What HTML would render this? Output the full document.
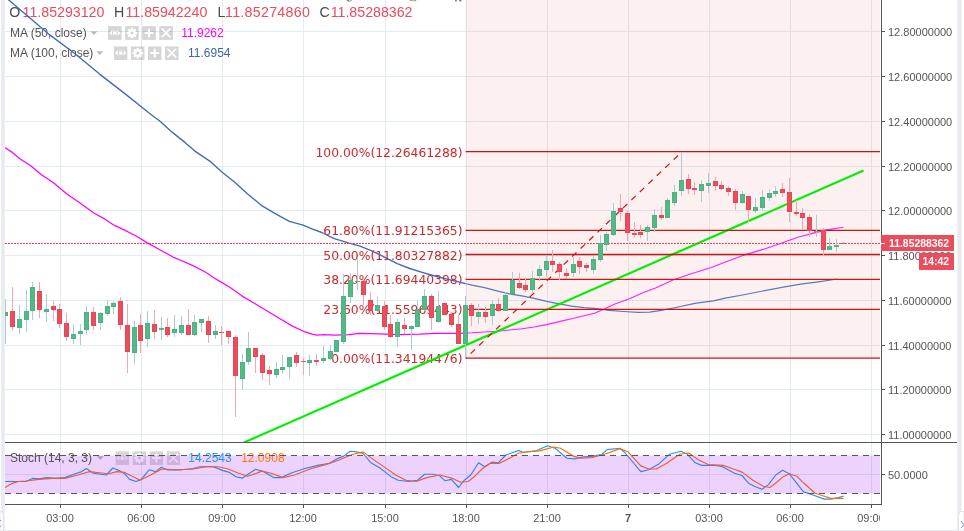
<!DOCTYPE html><html><head><meta charset="utf-8"><title>Chart</title><style>
html,body{margin:0;padding:0;background:#fff}
body{width:964px;height:531px;overflow:hidden;position:relative;font-family:"Liberation Sans",Arial,sans-serif}
#wrap{position:absolute;left:0;top:0;width:964px;height:531px;overflow:hidden;will-change:transform}
svg{position:absolute;left:0;top:0}
.t{position:absolute;white-space:nowrap;line-height:1}
.ax{font-size:11px;color:#555;left:888px}
.tm{font-size:11px;color:#555;transform:translateX(-50%)}
.fib{font-family:"DejaVu Sans","Liberation Sans",sans-serif;font-size:12.35px;color:#cc2a2a;right:501.5px;text-align:right}
.oh{font-size:14.2px;top:5.4px}
.ls{letter-spacing:0.3px}
.k{color:#4a4a4a}.v{color:#eb4d5c}
.lg{font-size:12px;color:#555}
.bx{position:absolute;background:#eb4d5c;color:#fff;font-weight:bold;font-size:10.4px;line-height:1;white-space:nowrap}

</style></head><body><div id="wrap">
<svg width="964" height="531" viewBox="0 0 964 531">
<rect x="1.2" y="0" width="3.5" height="531" fill="#e7eaef"/>
<rect x="957.2" y="0" width="4.3" height="531" fill="#e7eaef"/>
<defs>
<symbol id="i-eye" viewBox="0 0 14 14"><rect width="14" height="14" fill="#000" fill-opacity="0.16"/><path d="M1.3 7 Q7 0.4 12.7 7 Q7 13.6 1.3 7 Z" fill="#fff"/><circle cx="7" cy="7" r="3.1" fill="#d4d4d4"/><circle cx="7" cy="7" r="1.9" fill="#fff"/></symbol>
<symbol id="i-gear" viewBox="0 0 14 14"><rect width="14" height="14" fill="#000" fill-opacity="0.16"/><g fill="#fff"><circle cx="7" cy="7" r="3.9"/><g id="tt"><rect x="5.9" y="1.7" width="2.2" height="10.6"/><rect x="1.7" y="5.9" width="10.6" height="2.2"/></g><use href="#tt" transform="rotate(45 7 7)"/></g><circle cx="7" cy="7" r="1.6" fill="#d4d4d4"/></symbol>
<symbol id="i-plus" viewBox="0 0 14 14"><rect width="14" height="14" fill="#000" fill-opacity="0.16"/><path d="M7 2.6 V11.4 M2.6 7 H11.4" stroke="#fff" stroke-width="2" fill="none"/></symbol>
<symbol id="i-x" viewBox="0 0 14 14"><rect width="14" height="14" fill="#000" fill-opacity="0.16"/><path d="M2.6 2.6 L11.4 11.4 M11.4 2.6 L2.6 11.4" stroke="#fff" stroke-width="1.7" fill="none"/></symbol>
</defs>
<g stroke="#e1ecf2" stroke-width="1" shape-rendering="crispEdges">
<line x1="5" y1="31.5" x2="880" y2="31.5"/>
<line x1="5" y1="76.5" x2="880" y2="76.5"/>
<line x1="5" y1="121.5" x2="880" y2="121.5"/>
<line x1="5" y1="166.5" x2="880" y2="166.5"/>
<line x1="5" y1="210.5" x2="880" y2="210.5"/>
<line x1="5" y1="255.5" x2="880" y2="255.5"/>
<line x1="5" y1="300.5" x2="880" y2="300.5"/>
<line x1="5" y1="345.5" x2="880" y2="345.5"/>
<line x1="5" y1="389.5" x2="880" y2="389.5"/>
<line x1="5" y1="434.5" x2="880" y2="434.5"/>
<line x1="60.5" y1="0" x2="60.5" y2="504"/>
<line x1="141.5" y1="0" x2="141.5" y2="504"/>
<line x1="222.5" y1="0" x2="222.5" y2="504"/>
<line x1="303.5" y1="0" x2="303.5" y2="504"/>
<line x1="385.5" y1="0" x2="385.5" y2="504"/>
<line x1="466.5" y1="0" x2="466.5" y2="504"/>
<line x1="547.5" y1="0" x2="547.5" y2="504"/>
<line x1="628.5" y1="0" x2="628.5" y2="504"/>
<line x1="709.5" y1="0" x2="709.5" y2="504"/>
<line x1="790.5" y1="0" x2="790.5" y2="504"/>
<line x1="871.5" y1="0" x2="871.5" y2="504"/>
<line x1="5" y1="474.5" x2="880" y2="474.5"/>
<line x1="5" y1="530.5" x2="957" y2="530.5" stroke="#e7eaef"/>
</g>
<rect x="465.3" y="0" width="414.7" height="358.0" fill="#d42c24" fill-opacity="0.068"/>
<clipPath id="sp"><rect x="5" y="443" width="875" height="61"/></clipPath>
<g clip-path="url(#sp)">
<polyline points="5.2,481.5 26.0,481.5 32.4,478.4 38.9,478.9 46.7,477.6 54.5,478.4 64.8,477.6 75.2,473.7 81.7,471.6 86.4,468.5 93.4,473.2 106.3,475.0 112.8,468.0 119.3,470.6 124.5,473.7 129.7,479.4 136.2,481.5 141.3,479.4 149.1,469.8 155.6,471.6 161.3,467.2 167.3,469.8 181.5,469.8 193.2,468.5 199.7,466.7 212.7,466.5 223.0,470.6 229.5,472.4 236.0,476.8 242.5,478.1 255.6,469.3 263.3,471.6 273.7,477.6 281.5,477.6 290.6,473.2 304.8,468.5 317.8,465.4 329.5,463.3 337.2,458.7 343.7,456.1 350.2,451.2 356.7,451.9 363.2,453.5 371.0,462.8 380.0,468.0 391.7,477.1 398.2,480.2 408.6,481.5 417.6,480.2 424.6,474.2 433.2,474.2 439.7,475.8 444.9,480.7 451.4,479.4 458.6,487.5 464.3,480.2 470.8,475.0 478.6,462.8 484.7,466.7 492.4,462.0 498.2,462.8 505.9,455.0 518.9,450.4 522.8,452.2 535.8,450.9 547.4,445.7 555.2,448.3 566.9,458.2 574.7,458.9 583.7,456.9 594.1,456.1 601.9,454.3 607.1,449.6 620.0,448.3 625.2,453.0 640.8,471.6 648.6,469.8 658.9,463.9 669.3,454.3 681.0,451.2 687.5,454.3 695.2,462.8 701.7,465.4 713.4,465.2 721.8,466.5 734.7,473.2 742.0,475.5 749.0,483.6 755.5,486.7 762.0,489.3 768.5,484.6 775.7,475.0 782.7,470.3 789.2,473.7 803.5,491.9 813.8,495.2 824.2,499.1 830.7,499.1 838.5,497.6 843.7,496.0" fill="none" stroke="#2196f3" stroke-width="1.15" stroke-linejoin="round"/>
<polyline points="5.2,487.5 11.7,483.6 18.2,481.5 26.0,481.0 38.9,479.4 51.9,478.4 64.8,478.4 77.8,475.0 89.5,471.6 103.7,473.2 108.9,473.7 116.7,471.6 124.5,472.4 132.3,476.3 140.0,480.2 149.1,475.8 162.1,469.0 176.3,469.8 191.9,469.3 207.5,466.5 218.4,466.7 228.2,469.0 238.6,473.2 247.8,476.3 262.0,471.1 271.1,473.2 282.8,477.6 294.5,475.0 310.0,469.0 325.6,464.6 338.5,460.2 351.5,454.8 363.2,451.9 369.7,456.9 382.6,465.9 395.6,475.0 406.0,480.2 416.3,481.5 426.7,477.6 439.7,475.0 452.7,478.4 460.4,482.3 468.2,481.5 474.7,476.3 482.5,468.5 490.4,463.3 499.5,463.3 508.5,458.7 518.9,453.0 529.3,451.7 539.6,450.9 553.9,447.0 560.4,448.3 573.4,456.1 581.1,458.2 591.5,457.6 604.5,454.3 620.0,448.6 627.8,451.7 640.8,465.9 648.6,469.0 656.3,469.0 666.7,463.3 679.7,454.3 688.8,453.0 697.8,459.5 708.2,464.6 723.1,465.4 733.5,469.0 742.5,472.4 752.9,480.2 763.3,486.2 769.8,487.5 776.2,482.8 782.7,477.1 789.2,473.7 797.0,476.3 803.5,482.8 815.1,493.2 822.9,495.8 830.7,498.4 843.7,498.4" fill="none" stroke="#ff6d00" stroke-width="1.15" stroke-linejoin="round"/>
</g>
<use href="#i-eye" x="115.40" y="451.2" width="13.8" height="13.8"/><use href="#i-gear" x="132.45" y="451.2" width="13.8" height="13.8"/><use href="#i-plus" x="149.50" y="451.2" width="13.8" height="13.8"/><use href="#i-x" x="166.55" y="451.2" width="13.8" height="13.8"/>
<path d="M97 456.3 h6.8 l-3.4 3.8 z" fill="#b8b8b8"/>
<rect x="5" y="455.5" width="875" height="38" fill="#a020f0" fill-opacity="0.2"/>
<use href="#i-eye" x="108.00" y="26.1" width="13.8" height="13.8"/><use href="#i-gear" x="125.05" y="26.1" width="13.8" height="13.8"/><use href="#i-plus" x="142.10" y="26.1" width="13.8" height="13.8"/><use href="#i-x" x="159.15" y="26.1" width="13.8" height="13.8"/>
<path d="M90.6 31.3 h6.8 l-3.4 3.8 z" fill="#b8b8b8"/>
<use href="#i-eye" x="113.80" y="46.2" width="13.8" height="13.8"/><use href="#i-gear" x="130.85" y="46.2" width="13.8" height="13.8"/><use href="#i-plus" x="147.90" y="46.2" width="13.8" height="13.8"/><use href="#i-x" x="164.95" y="46.2" width="13.8" height="13.8"/>
<path d="M96.4 51.3 h6.8 l-3.4 3.8 z" fill="#b8b8b8"/>
<g fill="#444" fill-opacity="0.8"><path d="M346.3 0 h2.2 l1.2 0.9 l1.4 -0.9 h1 l-2.2 1.5 h-1.4 z"/><path d="M409.3 0 h1.6 q2.4 1.3 4.6 0 h1.2 q-3 2.6 -7.4 0 z"/><rect x="455.2" y="0" width="1.5" height="1.5"/><rect x="459.3" y="0" width="1.9" height="1.4"/></g>
</svg>
<div style="position:absolute;left:5px;top:0;width:875px;height:442px;overflow:hidden"><div style="position:absolute;left:-5px;top:0;width:964px;height:531px">
<div class="t fib" style="top:146.5px">100.00%(12.26461288)</div>
<div class="t fib" style="top:225.3px">61.80%(11.91215365)</div>
<div class="t fib" style="top:249.7px">50.00%(11.80327882)</div>
<div class="t fib" style="top:274.0px">38.20%(11.69440398)</div>
<div class="t fib" style="top:304.2px">23.60%(11.55969443)</div>
<div class="t fib" style="top:352.8px">0.00%(11.34194476)</div>
<div class="t oh k" style="left:9.3px">O</div>
<div class="t oh v" style="left:22.6px">11.85293120</div>
<div class="t oh k" style="left:113.9px">H</div>
<div class="t oh v" style="left:125.5px">11.85942240</div>
<div class="t oh k" style="left:217.6px">L</div>
<div class="t oh v ls" style="left:225px">11.85274860</div>
<div class="t oh k" style="left:319.5px">C</div>
<div class="t oh v" style="left:330.7px">11.85288362</div>
<div class="t lg" style="left:10px;top:27px">MA (50, close)</div>
<div class="t lg" style="left:181.2px;top:27px;color:#ff00ff">11.9262</div>
<div class="t lg" style="left:10px;top:47px">MA (100, close)</div>
<div class="t lg" style="left:188px;top:47px;color:#3f62ad">11.6954</div>
</div></div>
<div class="t lg" style="left:10px;top:452px">Stoch (14, 3, 3)</div>
<div class="t lg" style="left:188.3px;top:452px;color:#2196f3">14.2543</div>
<div class="t lg" style="left:241.2px;top:452px;color:#ff7a0a">12.0908</div>
<svg width="964" height="531" viewBox="0 0 964 531">
<defs><clipPath id="mp"><rect x="5" y="0" width="875" height="442"/></clipPath></defs>
<g clip-path="url(#mp)">
<clipPath id="cl"><rect x="0" y="0" width="465.5" height="442"/></clipPath><clipPath id="cr"><rect x="465.5" y="0" width="420" height="442"/></clipPath>
<g clip-path="url(#cl)"><polyline points="4.0,-4.0 8.7,0.0 24.9,13.7 49.8,34.9 74.7,53.5 99.6,74.1 124.5,93.4 149.4,113.3 160.0,121.2 172.4,132.4 184.9,142.4 194.9,151.1 209.8,161.1 222.2,172.3 234.7,182.2 247.1,193.4 262.1,205.9 277.0,214.6 289.4,221.3 303.1,225.1 311.9,228.8 321.8,232.5 334.3,238.7 349.2,243.2 360.0,246.1 372.4,251.1 384.9,257.3 397.3,263.6 409.8,268.5 422.2,272.3 434.7,276.0 447.1,279.2 459.6,282.2 472.0,285.2 484.5,287.7 496.9,290.9 509.4,293.9 521.8,295.9 534.3,298.4 546.7,301.4 559.2,303.9 571.6,306.1 584.0,307.6 594.5,308.3 609.0,310.4 623.6,311.5 638.1,312.4 649.7,312.1 661.3,310.4 675.8,307.5 696.2,303.1 713.6,300.8 725.2,298.2 742.6,295.0 760.1,291.5 783.3,287.1 800.7,284.2 818.2,281.9 837.4,279.0" fill="none" stroke="#4468b6" stroke-width="1.35" stroke-linejoin="round"/><polyline points="5.0,147.8 12.4,152.4 19.9,158.7 31.1,166.1 41.1,174.4 53.5,182.8 67.2,194.3 79.7,202.7 93.4,212.7 104.6,218.9 114.5,225.4 124.5,230.1 135.7,235.8 146.9,242.6 159.3,249.5 174.3,257.7 180.0,260.0 192.4,265.4 204.9,271.7 217.3,279.9 229.8,287.3 242.2,296.1 254.7,303.5 267.1,311.0 279.6,318.5 292.0,325.9 304.5,331.7 311.9,334.1 316.9,335.1 324.4,334.6 334.3,335.1 349.3,334.6 359.2,333.4 379.2,333.9 399.1,334.6 420.0,334.1 434.7,333.3 459.6,333.3 472.0,332.8 484.5,332.0 496.9,331.3 509.4,330.0 521.8,328.8 534.3,327.0 546.7,324.6 559.2,321.6 571.6,318.8 584.0,315.8 594.5,313.3 603.2,309.5 614.9,304.0 629.4,298.8 641.0,293.5 655.5,288.0 672.9,279.9 690.4,274.1 710.7,267.7 728.1,261.0 745.6,254.6 763.0,249.4 780.4,243.6 797.8,237.2 812.4,233.4 826.9,229.9 843.4,227.3" fill="none" stroke="#ff00ff" stroke-width="1.25" stroke-linejoin="round"/></g>
<g clip-path="url(#cr)" stroke-opacity="0.88"><polyline points="4.0,-4.0 8.7,0.0 24.9,13.7 49.8,34.9 74.7,53.5 99.6,74.1 124.5,93.4 149.4,113.3 160.0,121.2 172.4,132.4 184.9,142.4 194.9,151.1 209.8,161.1 222.2,172.3 234.7,182.2 247.1,193.4 262.1,205.9 277.0,214.6 289.4,221.3 303.1,225.1 311.9,228.8 321.8,232.5 334.3,238.7 349.2,243.2 360.0,246.1 372.4,251.1 384.9,257.3 397.3,263.6 409.8,268.5 422.2,272.3 434.7,276.0 447.1,279.2 459.6,282.2 472.0,285.2 484.5,287.7 496.9,290.9 509.4,293.9 521.8,295.9 534.3,298.4 546.7,301.4 559.2,303.9 571.6,306.1 584.0,307.6 594.5,308.3 609.0,310.4 623.6,311.5 638.1,312.4 649.7,312.1 661.3,310.4 675.8,307.5 696.2,303.1 713.6,300.8 725.2,298.2 742.6,295.0 760.1,291.5 783.3,287.1 800.7,284.2 818.2,281.9 837.4,279.0" fill="none" stroke="#4468b6" stroke-width="1.2" stroke-linejoin="round"/><polyline points="5.0,147.8 12.4,152.4 19.9,158.7 31.1,166.1 41.1,174.4 53.5,182.8 67.2,194.3 79.7,202.7 93.4,212.7 104.6,218.9 114.5,225.4 124.5,230.1 135.7,235.8 146.9,242.6 159.3,249.5 174.3,257.7 180.0,260.0 192.4,265.4 204.9,271.7 217.3,279.9 229.8,287.3 242.2,296.1 254.7,303.5 267.1,311.0 279.6,318.5 292.0,325.9 304.5,331.7 311.9,334.1 316.9,335.1 324.4,334.6 334.3,335.1 349.3,334.6 359.2,333.4 379.2,333.9 399.1,334.6 420.0,334.1 434.7,333.3 459.6,333.3 472.0,332.8 484.5,332.0 496.9,331.3 509.4,330.0 521.8,328.8 534.3,327.0 546.7,324.6 559.2,321.6 571.6,318.8 584.0,315.8 594.5,313.3 603.2,309.5 614.9,304.0 629.4,298.8 641.0,293.5 655.5,288.0 672.9,279.9 690.4,274.1 710.7,267.7 728.1,261.0 745.6,254.6 763.0,249.4 780.4,243.6 797.8,237.2 812.4,233.4 826.9,229.9 843.4,227.3" fill="none" stroke="#ff00ff" stroke-width="1.1" stroke-linejoin="round"/></g>
<line x1="239" y1="444.7" x2="863.5" y2="170.6" stroke="#00f000" stroke-width="2.15"/>
<line x1="465.6" y1="151.70" x2="880" y2="151.70" stroke="#cc1414" stroke-width="1.3"/>
<line x1="465.6" y1="230.45" x2="880" y2="230.45" stroke="#cc1414" stroke-width="1.3"/>
<line x1="465.6" y1="254.50" x2="880" y2="254.50" stroke="#cc1414" stroke-width="1.3"/>
<line x1="465.6" y1="279.40" x2="880" y2="279.40" stroke="#cc1414" stroke-width="1.3"/>
<line x1="465.6" y1="309.30" x2="880" y2="309.30" stroke="#cc1414" stroke-width="1.3"/>
<line x1="465.6" y1="358.05" x2="880" y2="358.05" stroke="#cc1414" stroke-width="1.3"/>
<line x1="466" y1="358.0" x2="682" y2="151.7" stroke="#cc1414" stroke-width="1.2" stroke-dasharray="6,5.7" stroke-dashoffset="5.3"/>
<line x1="5" y1="243.5" x2="880" y2="243.5" stroke="#e93a50" stroke-width="1.15" stroke-dasharray="1.9,1.1"/>
<rect x="5.0" y="299" width="1" height="13" fill="#a9cdd3"/>
<rect x="5.0" y="316" width="1" height="28" fill="#a9cdd3"/>
<rect x="3.0" y="312" width="5" height="4" fill="#4eb182"/><rect x="4.0" y="313" width="3" height="2" fill="#53b987"/>
<rect x="12.0" y="287" width="1" height="24" fill="#f5a6ae"/>
<rect x="12.0" y="327" width="1" height="4" fill="#f5a6ae"/>
<rect x="10.0" y="311" width="5" height="16" fill="#e24858"/><rect x="11.0" y="312" width="3" height="14" fill="#eb4d5c"/>
<rect x="19.0" y="305" width="1" height="14" fill="#a9cdd3"/>
<rect x="19.0" y="328" width="1" height="6" fill="#a9cdd3"/>
<rect x="17.0" y="319" width="5" height="9" fill="#4eb182"/><rect x="18.0" y="320" width="3" height="7" fill="#53b987"/>
<rect x="26.0" y="290" width="1" height="21" fill="#a9cdd3"/>
<rect x="26.0" y="320" width="1" height="12" fill="#a9cdd3"/>
<rect x="24.0" y="311" width="5" height="9" fill="#4eb182"/><rect x="25.0" y="312" width="3" height="7" fill="#53b987"/>
<rect x="32.0" y="282" width="1" height="5" fill="#a9cdd3"/>
<rect x="32.0" y="311" width="1" height="9" fill="#a9cdd3"/>
<rect x="30.0" y="287" width="5" height="24" fill="#4eb182"/><rect x="31.0" y="288" width="3" height="22" fill="#53b987"/>
<rect x="39.0" y="282" width="1" height="9" fill="#f5a6ae"/>
<rect x="39.0" y="310" width="1" height="8" fill="#f5a6ae"/>
<rect x="37.0" y="291" width="5" height="19" fill="#e24858"/><rect x="38.0" y="292" width="3" height="17" fill="#eb4d5c"/>
<rect x="46.0" y="294" width="1" height="15" fill="#a9cdd3"/>
<rect x="46.0" y="312" width="1" height="10" fill="#a9cdd3"/>
<rect x="44.0" y="309" width="5" height="3" fill="#4eb182"/><rect x="45.0" y="310" width="3" height="1" fill="#53b987"/>
<rect x="53.0" y="301" width="1" height="5" fill="#f5a6ae"/>
<rect x="53.0" y="310" width="1" height="11" fill="#f5a6ae"/>
<rect x="51.0" y="306" width="5" height="4" fill="#e24858"/><rect x="52.0" y="307" width="3" height="2" fill="#eb4d5c"/>
<rect x="59.0" y="304" width="1" height="5" fill="#f5a6ae"/>
<rect x="59.0" y="324" width="1" height="4" fill="#f5a6ae"/>
<rect x="57.0" y="309" width="5" height="15" fill="#e24858"/><rect x="58.0" y="310" width="3" height="13" fill="#eb4d5c"/>
<rect x="66.0" y="313" width="1" height="10" fill="#f5a6ae"/>
<rect x="66.0" y="337" width="1" height="4" fill="#f5a6ae"/>
<rect x="64.0" y="323" width="5" height="14" fill="#e24858"/><rect x="65.0" y="324" width="3" height="12" fill="#eb4d5c"/>
<rect x="73.0" y="325" width="1" height="9" fill="#a9cdd3"/>
<rect x="73.0" y="339" width="1" height="5" fill="#a9cdd3"/>
<rect x="71.0" y="334" width="5" height="5" fill="#4eb182"/><rect x="72.0" y="335" width="3" height="3" fill="#53b987"/>
<rect x="80.0" y="324" width="1" height="7" fill="#a9cdd3"/>
<rect x="80.0" y="334" width="1" height="11" fill="#a9cdd3"/>
<rect x="78.0" y="331" width="5" height="3" fill="#4eb182"/><rect x="79.0" y="332" width="3" height="1" fill="#53b987"/>
<rect x="86.0" y="306" width="1" height="6" fill="#a9cdd3"/>
<rect x="86.0" y="330" width="1" height="5" fill="#a9cdd3"/>
<rect x="84.0" y="312" width="5" height="18" fill="#4eb182"/><rect x="85.0" y="313" width="3" height="16" fill="#53b987"/>
<rect x="93.0" y="307" width="1" height="5" fill="#f5a6ae"/>
<rect x="93.0" y="326" width="1" height="4" fill="#f5a6ae"/>
<rect x="91.0" y="312" width="5" height="14" fill="#e24858"/><rect x="92.0" y="313" width="3" height="12" fill="#eb4d5c"/>
<rect x="100.0" y="312" width="1" height="1" fill="#a9cdd3"/>
<rect x="100.0" y="323" width="1" height="7" fill="#a9cdd3"/>
<rect x="98.0" y="313" width="5" height="10" fill="#4eb182"/><rect x="99.0" y="314" width="3" height="8" fill="#53b987"/>
<rect x="107.0" y="300" width="1" height="6" fill="#a9cdd3"/>
<rect x="107.0" y="314" width="1" height="2" fill="#a9cdd3"/>
<rect x="105.0" y="306" width="5" height="8" fill="#4eb182"/><rect x="106.0" y="307" width="3" height="6" fill="#53b987"/>
<rect x="113.0" y="301" width="1" height="2" fill="#a9cdd3"/>
<rect x="113.0" y="307" width="1" height="7" fill="#a9cdd3"/>
<rect x="111.0" y="303" width="5" height="4" fill="#4eb182"/><rect x="112.0" y="304" width="3" height="2" fill="#53b987"/>
<rect x="120.0" y="297" width="1" height="4" fill="#f5a6ae"/>
<rect x="120.0" y="325" width="1" height="5" fill="#f5a6ae"/>
<rect x="118.0" y="301" width="5" height="24" fill="#e24858"/><rect x="119.0" y="302" width="3" height="22" fill="#eb4d5c"/>
<rect x="127.0" y="304" width="1" height="21" fill="#f5a6ae"/>
<rect x="127.0" y="352" width="1" height="21" fill="#f5a6ae"/>
<rect x="125.0" y="325" width="5" height="27" fill="#e24858"/><rect x="126.0" y="326" width="3" height="25" fill="#eb4d5c"/>
<rect x="134.0" y="321" width="1" height="6" fill="#a9cdd3"/>
<rect x="134.0" y="353" width="1" height="11" fill="#a9cdd3"/>
<rect x="132.0" y="327" width="5" height="26" fill="#4eb182"/><rect x="133.0" y="328" width="3" height="24" fill="#53b987"/>
<rect x="140.0" y="314" width="1" height="11" fill="#f5a6ae"/>
<rect x="140.0" y="341" width="1" height="12" fill="#f5a6ae"/>
<rect x="138.0" y="325" width="5" height="16" fill="#e24858"/><rect x="139.0" y="326" width="3" height="14" fill="#eb4d5c"/>
<rect x="147.0" y="311" width="1" height="12" fill="#a9cdd3"/>
<rect x="147.0" y="339" width="1" height="8" fill="#a9cdd3"/>
<rect x="145.0" y="323" width="5" height="16" fill="#4eb182"/><rect x="146.0" y="324" width="3" height="14" fill="#53b987"/>
<rect x="154.0" y="310" width="1" height="14" fill="#f5a6ae"/>
<rect x="154.0" y="332" width="1" height="7" fill="#f5a6ae"/>
<rect x="152.0" y="324" width="5" height="8" fill="#e24858"/><rect x="153.0" y="325" width="3" height="6" fill="#eb4d5c"/>
<rect x="161.0" y="317" width="1" height="11" fill="#a9cdd3"/>
<rect x="161.0" y="330" width="1" height="10" fill="#a9cdd3"/>
<rect x="159.0" y="328" width="5" height="2" fill="#53b987"/>
<rect x="167.0" y="318" width="1" height="9" fill="#f5a6ae"/>
<rect x="167.0" y="335" width="1" height="2" fill="#f5a6ae"/>
<rect x="165.0" y="327" width="5" height="8" fill="#e24858"/><rect x="166.0" y="328" width="3" height="6" fill="#eb4d5c"/>
<rect x="174.0" y="315" width="1" height="14" fill="#a9cdd3"/>
<rect x="174.0" y="333" width="1" height="4" fill="#a9cdd3"/>
<rect x="172.0" y="329" width="5" height="4" fill="#4eb182"/><rect x="173.0" y="330" width="3" height="2" fill="#53b987"/>
<rect x="181.0" y="316" width="1" height="9" fill="#a9cdd3"/>
<rect x="181.0" y="333" width="1" height="2" fill="#a9cdd3"/>
<rect x="179.0" y="325" width="5" height="8" fill="#4eb182"/><rect x="180.0" y="326" width="3" height="6" fill="#53b987"/>
<rect x="188.0" y="309" width="1" height="16" fill="#f5a6ae"/>
<rect x="186.0" y="325" width="5" height="10" fill="#e24858"/><rect x="187.0" y="326" width="3" height="8" fill="#eb4d5c"/>
<rect x="194.0" y="315" width="1" height="7" fill="#a9cdd3"/>
<rect x="194.0" y="335" width="1" height="1" fill="#a9cdd3"/>
<rect x="192.0" y="322" width="5" height="13" fill="#4eb182"/><rect x="193.0" y="323" width="3" height="11" fill="#53b987"/>
<rect x="201.0" y="323" width="1" height="9" fill="#a9cdd3"/>
<rect x="199.0" y="319" width="5" height="4" fill="#4eb182"/><rect x="200.0" y="320" width="3" height="2" fill="#53b987"/>
<rect x="208.0" y="316" width="1" height="5" fill="#f5a6ae"/>
<rect x="208.0" y="335" width="1" height="8" fill="#f5a6ae"/>
<rect x="206.0" y="321" width="5" height="14" fill="#e24858"/><rect x="207.0" y="322" width="3" height="12" fill="#eb4d5c"/>
<rect x="215.0" y="325" width="1" height="6" fill="#a9cdd3"/>
<rect x="215.0" y="335" width="1" height="4" fill="#a9cdd3"/>
<rect x="213.0" y="331" width="5" height="4" fill="#4eb182"/><rect x="214.0" y="332" width="3" height="2" fill="#53b987"/>
<rect x="221.0" y="326" width="1" height="6" fill="#f5a6ae"/>
<rect x="221.0" y="333" width="1" height="12" fill="#f5a6ae"/>
<rect x="219.0" y="332" width="5" height="1" fill="#eb4d5c"/>
<rect x="228.0" y="337" width="1" height="7" fill="#f5a6ae"/>
<rect x="226.0" y="331" width="5" height="6" fill="#e24858"/><rect x="227.0" y="332" width="3" height="4" fill="#eb4d5c"/>
<rect x="235.0" y="335" width="1" height="2" fill="#f5a6ae"/>
<rect x="235.0" y="376" width="1" height="41" fill="#f5a6ae"/>
<rect x="233.0" y="337" width="5" height="39" fill="#e24858"/><rect x="234.0" y="338" width="3" height="37" fill="#eb4d5c"/>
<rect x="242.0" y="354" width="1" height="8" fill="#a9cdd3"/>
<rect x="242.0" y="379" width="1" height="11" fill="#a9cdd3"/>
<rect x="240.0" y="362" width="5" height="17" fill="#4eb182"/><rect x="241.0" y="363" width="3" height="15" fill="#53b987"/>
<rect x="248.0" y="332" width="1" height="16" fill="#a9cdd3"/>
<rect x="248.0" y="362" width="1" height="3" fill="#a9cdd3"/>
<rect x="246.0" y="348" width="5" height="14" fill="#4eb182"/><rect x="247.0" y="349" width="3" height="12" fill="#53b987"/>
<rect x="255.0" y="357" width="1" height="16" fill="#f5a6ae"/>
<rect x="253.0" y="348" width="5" height="9" fill="#e24858"/><rect x="254.0" y="349" width="3" height="7" fill="#eb4d5c"/>
<rect x="262.0" y="353" width="1" height="2" fill="#f5a6ae"/>
<rect x="262.0" y="373" width="1" height="7" fill="#f5a6ae"/>
<rect x="260.0" y="355" width="5" height="18" fill="#e24858"/><rect x="261.0" y="356" width="3" height="16" fill="#eb4d5c"/>
<rect x="269.0" y="366" width="1" height="4" fill="#f5a6ae"/>
<rect x="269.0" y="374" width="1" height="11" fill="#f5a6ae"/>
<rect x="267.0" y="370" width="5" height="4" fill="#e24858"/><rect x="268.0" y="371" width="3" height="2" fill="#eb4d5c"/>
<rect x="276.0" y="362" width="1" height="7" fill="#a9cdd3"/>
<rect x="276.0" y="375" width="1" height="3" fill="#a9cdd3"/>
<rect x="274.0" y="369" width="5" height="6" fill="#4eb182"/><rect x="275.0" y="370" width="3" height="4" fill="#53b987"/>
<rect x="282.0" y="355" width="1" height="12" fill="#a9cdd3"/>
<rect x="282.0" y="370" width="1" height="4" fill="#a9cdd3"/>
<rect x="280.0" y="367" width="5" height="3" fill="#4eb182"/><rect x="281.0" y="368" width="3" height="1" fill="#53b987"/>
<rect x="289.0" y="367" width="1" height="12" fill="#a9cdd3"/>
<rect x="287.0" y="357" width="5" height="10" fill="#4eb182"/><rect x="288.0" y="358" width="3" height="8" fill="#53b987"/>
<rect x="296.0" y="352" width="1" height="3" fill="#f5a6ae"/>
<rect x="296.0" y="363" width="1" height="4" fill="#f5a6ae"/>
<rect x="294.0" y="355" width="5" height="8" fill="#e24858"/><rect x="295.0" y="356" width="3" height="6" fill="#eb4d5c"/>
<rect x="303.0" y="358" width="1" height="3" fill="#f5a6ae"/>
<rect x="303.0" y="362" width="1" height="13" fill="#f5a6ae"/>
<rect x="301.0" y="361" width="5" height="1" fill="#eb4d5c"/>
<rect x="309.0" y="355" width="1" height="5" fill="#a9cdd3"/>
<rect x="309.0" y="363" width="1" height="13" fill="#a9cdd3"/>
<rect x="307.0" y="360" width="5" height="3" fill="#4eb182"/><rect x="308.0" y="361" width="3" height="1" fill="#53b987"/>
<rect x="316.0" y="354" width="1" height="6" fill="#f5a6ae"/>
<rect x="316.0" y="362" width="1" height="4" fill="#f5a6ae"/>
<rect x="314.0" y="360" width="5" height="2" fill="#eb4d5c"/>
<rect x="323.0" y="346" width="1" height="12" fill="#a9cdd3"/>
<rect x="323.0" y="361" width="1" height="2" fill="#a9cdd3"/>
<rect x="321.0" y="358" width="5" height="3" fill="#4eb182"/><rect x="322.0" y="359" width="3" height="1" fill="#53b987"/>
<rect x="330.0" y="345" width="1" height="6" fill="#a9cdd3"/>
<rect x="330.0" y="359" width="1" height="1" fill="#a9cdd3"/>
<rect x="328.0" y="351" width="5" height="8" fill="#4eb182"/><rect x="329.0" y="352" width="3" height="6" fill="#53b987"/>
<rect x="334.0" y="340" width="5" height="12" fill="#4eb182"/><rect x="335.0" y="341" width="3" height="10" fill="#53b987"/>
<rect x="343.0" y="274" width="1" height="22" fill="#a9cdd3"/>
<rect x="343.0" y="342" width="1" height="2" fill="#a9cdd3"/>
<rect x="341.0" y="296" width="5" height="46" fill="#4eb182"/><rect x="342.0" y="297" width="3" height="44" fill="#53b987"/>
<rect x="350.0" y="273" width="1" height="7" fill="#a9cdd3"/>
<rect x="350.0" y="297" width="1" height="6" fill="#a9cdd3"/>
<rect x="348.0" y="280" width="5" height="17" fill="#4eb182"/><rect x="349.0" y="281" width="3" height="15" fill="#53b987"/>
<rect x="357.0" y="258" width="1" height="23" fill="#a9cdd3"/>
<rect x="357.0" y="282" width="1" height="8" fill="#a9cdd3"/>
<rect x="355.0" y="281" width="5" height="1" fill="#53b987"/>
<rect x="363.0" y="295" width="1" height="10" fill="#f5a6ae"/>
<rect x="361.0" y="281" width="5" height="14" fill="#e24858"/><rect x="362.0" y="282" width="3" height="12" fill="#eb4d5c"/>
<rect x="370.0" y="292" width="1" height="8" fill="#f5a6ae"/>
<rect x="370.0" y="311" width="1" height="4" fill="#f5a6ae"/>
<rect x="368.0" y="300" width="5" height="11" fill="#e24858"/><rect x="369.0" y="301" width="3" height="9" fill="#eb4d5c"/>
<rect x="377.0" y="297" width="1" height="8" fill="#a9cdd3"/>
<rect x="377.0" y="311" width="1" height="1" fill="#a9cdd3"/>
<rect x="375.0" y="305" width="5" height="6" fill="#4eb182"/><rect x="376.0" y="306" width="3" height="4" fill="#53b987"/>
<rect x="384.0" y="301" width="1" height="5" fill="#f5a6ae"/>
<rect x="384.0" y="327" width="1" height="3" fill="#f5a6ae"/>
<rect x="382.0" y="306" width="5" height="21" fill="#e24858"/><rect x="383.0" y="307" width="3" height="19" fill="#eb4d5c"/>
<rect x="390.0" y="315" width="1" height="9" fill="#f5a6ae"/>
<rect x="390.0" y="337" width="1" height="1" fill="#f5a6ae"/>
<rect x="388.0" y="324" width="5" height="13" fill="#e24858"/><rect x="389.0" y="325" width="3" height="11" fill="#eb4d5c"/>
<rect x="397.0" y="319" width="1" height="3" fill="#a9cdd3"/>
<rect x="397.0" y="337" width="1" height="10" fill="#a9cdd3"/>
<rect x="395.0" y="322" width="5" height="15" fill="#4eb182"/><rect x="396.0" y="323" width="3" height="13" fill="#53b987"/>
<rect x="404.0" y="318" width="1" height="7" fill="#f5a6ae"/>
<rect x="404.0" y="329" width="1" height="5" fill="#f5a6ae"/>
<rect x="402.0" y="325" width="5" height="4" fill="#e24858"/><rect x="403.0" y="326" width="3" height="2" fill="#eb4d5c"/>
<rect x="411.0" y="325" width="1" height="1" fill="#a9cdd3"/>
<rect x="411.0" y="329" width="1" height="21" fill="#a9cdd3"/>
<rect x="409.0" y="326" width="5" height="3" fill="#4eb182"/><rect x="410.0" y="327" width="3" height="1" fill="#53b987"/>
<rect x="417.0" y="301" width="1" height="8" fill="#a9cdd3"/>
<rect x="415.0" y="309" width="5" height="18" fill="#4eb182"/><rect x="416.0" y="310" width="3" height="16" fill="#53b987"/>
<rect x="424.0" y="289" width="1" height="7" fill="#a9cdd3"/>
<rect x="424.0" y="310" width="1" height="1" fill="#a9cdd3"/>
<rect x="422.0" y="296" width="5" height="14" fill="#4eb182"/><rect x="423.0" y="297" width="3" height="12" fill="#53b987"/>
<rect x="431.0" y="294" width="1" height="2" fill="#f5a6ae"/>
<rect x="431.0" y="318" width="1" height="12" fill="#f5a6ae"/>
<rect x="429.0" y="296" width="5" height="22" fill="#e24858"/><rect x="430.0" y="297" width="3" height="20" fill="#eb4d5c"/>
<rect x="438.0" y="291" width="1" height="15" fill="#a9cdd3"/>
<rect x="438.0" y="322" width="1" height="1" fill="#a9cdd3"/>
<rect x="436.0" y="306" width="5" height="16" fill="#4eb182"/><rect x="437.0" y="307" width="3" height="14" fill="#53b987"/>
<rect x="442.0" y="303" width="5" height="12" fill="#e24858"/><rect x="443.0" y="304" width="3" height="10" fill="#eb4d5c"/>
<rect x="451.0" y="313" width="1" height="1" fill="#f5a6ae"/>
<rect x="451.0" y="325" width="1" height="2" fill="#f5a6ae"/>
<rect x="449.0" y="314" width="5" height="11" fill="#e24858"/><rect x="450.0" y="315" width="3" height="9" fill="#eb4d5c"/>
<rect x="458.0" y="315" width="1" height="9" fill="#f5a6ae"/>
<rect x="456.0" y="324" width="5" height="20" fill="#e24858"/><rect x="457.0" y="325" width="3" height="18" fill="#eb4d5c"/>
<rect x="465.0" y="296" width="1" height="9" fill="#a9cdd3"/>
<rect x="465.0" y="344" width="1" height="13" fill="#a9cdd3"/>
<rect x="463.0" y="305" width="5" height="39" fill="#4eb182"/><rect x="464.0" y="306" width="3" height="37" fill="#53b987"/>
<rect x="471.0" y="303" width="1" height="2" fill="#f5a6ae"/>
<rect x="471.0" y="316" width="1" height="10" fill="#f5a6ae"/>
<rect x="469.0" y="305" width="5" height="11" fill="#e24858"/><rect x="470.0" y="306" width="3" height="9" fill="#eb4d5c"/>
<rect x="478.0" y="304" width="1" height="8" fill="#a9cdd3"/>
<rect x="478.0" y="317" width="1" height="7" fill="#a9cdd3"/>
<rect x="476.0" y="312" width="5" height="5" fill="#4eb182"/><rect x="477.0" y="313" width="3" height="3" fill="#53b987"/>
<rect x="485.0" y="307" width="1" height="5" fill="#f5a6ae"/>
<rect x="485.0" y="317" width="1" height="6" fill="#f5a6ae"/>
<rect x="483.0" y="312" width="5" height="5" fill="#e24858"/><rect x="484.0" y="313" width="3" height="3" fill="#eb4d5c"/>
<rect x="492.0" y="300" width="1" height="4" fill="#a9cdd3"/>
<rect x="492.0" y="316" width="1" height="9" fill="#a9cdd3"/>
<rect x="490.0" y="304" width="5" height="12" fill="#4eb182"/><rect x="491.0" y="305" width="3" height="10" fill="#53b987"/>
<rect x="498.0" y="298" width="1" height="6" fill="#f5a6ae"/>
<rect x="498.0" y="311" width="1" height="1" fill="#f5a6ae"/>
<rect x="496.0" y="304" width="5" height="7" fill="#e24858"/><rect x="497.0" y="305" width="3" height="5" fill="#eb4d5c"/>
<rect x="505.0" y="292" width="1" height="3" fill="#a9cdd3"/>
<rect x="503.0" y="295" width="5" height="16" fill="#4eb182"/><rect x="504.0" y="296" width="3" height="14" fill="#53b987"/>
<rect x="512.0" y="272" width="1" height="8" fill="#a9cdd3"/>
<rect x="510.0" y="280" width="5" height="14" fill="#4eb182"/><rect x="511.0" y="281" width="3" height="12" fill="#53b987"/>
<rect x="519.0" y="273" width="1" height="10" fill="#f5a6ae"/>
<rect x="519.0" y="288" width="1" height="1" fill="#f5a6ae"/>
<rect x="517.0" y="283" width="5" height="5" fill="#e24858"/><rect x="518.0" y="284" width="3" height="3" fill="#eb4d5c"/>
<rect x="525.0" y="278" width="1" height="7" fill="#f5a6ae"/>
<rect x="525.0" y="290" width="1" height="2" fill="#f5a6ae"/>
<rect x="523.0" y="285" width="5" height="5" fill="#e24858"/><rect x="524.0" y="286" width="3" height="3" fill="#eb4d5c"/>
<rect x="532.0" y="271" width="1" height="7" fill="#a9cdd3"/>
<rect x="532.0" y="290" width="1" height="3" fill="#a9cdd3"/>
<rect x="530.0" y="278" width="5" height="12" fill="#4eb182"/><rect x="531.0" y="279" width="3" height="10" fill="#53b987"/>
<rect x="539.0" y="265" width="1" height="4" fill="#a9cdd3"/>
<rect x="539.0" y="276" width="1" height="5" fill="#a9cdd3"/>
<rect x="537.0" y="269" width="5" height="7" fill="#4eb182"/><rect x="538.0" y="270" width="3" height="5" fill="#53b987"/>
<rect x="546.0" y="255" width="1" height="6" fill="#a9cdd3"/>
<rect x="546.0" y="270" width="1" height="7" fill="#a9cdd3"/>
<rect x="544.0" y="261" width="5" height="9" fill="#4eb182"/><rect x="545.0" y="262" width="3" height="7" fill="#53b987"/>
<rect x="552.0" y="250" width="1" height="11" fill="#f5a6ae"/>
<rect x="552.0" y="265" width="1" height="7" fill="#f5a6ae"/>
<rect x="550.0" y="261" width="5" height="4" fill="#e24858"/><rect x="551.0" y="262" width="3" height="2" fill="#eb4d5c"/>
<rect x="559.0" y="262" width="1" height="2" fill="#f5a6ae"/>
<rect x="559.0" y="272" width="1" height="8" fill="#f5a6ae"/>
<rect x="557.0" y="264" width="5" height="8" fill="#e24858"/><rect x="558.0" y="265" width="3" height="6" fill="#eb4d5c"/>
<rect x="566.0" y="268" width="1" height="5" fill="#f5a6ae"/>
<rect x="566.0" y="276" width="1" height="2" fill="#f5a6ae"/>
<rect x="564.0" y="273" width="5" height="3" fill="#e24858"/><rect x="565.0" y="274" width="3" height="1" fill="#eb4d5c"/>
<rect x="573.0" y="257" width="1" height="7" fill="#a9cdd3"/>
<rect x="573.0" y="273" width="1" height="4" fill="#a9cdd3"/>
<rect x="571.0" y="264" width="5" height="9" fill="#4eb182"/><rect x="572.0" y="265" width="3" height="7" fill="#53b987"/>
<rect x="579.0" y="257" width="1" height="4" fill="#f5a6ae"/>
<rect x="579.0" y="267" width="1" height="7" fill="#f5a6ae"/>
<rect x="577.0" y="261" width="5" height="6" fill="#e24858"/><rect x="578.0" y="262" width="3" height="4" fill="#eb4d5c"/>
<rect x="586.0" y="263" width="1" height="2" fill="#f5a6ae"/>
<rect x="586.0" y="268" width="1" height="4" fill="#f5a6ae"/>
<rect x="584.0" y="265" width="5" height="3" fill="#e24858"/><rect x="585.0" y="266" width="3" height="1" fill="#eb4d5c"/>
<rect x="593.0" y="256" width="1" height="3" fill="#a9cdd3"/>
<rect x="593.0" y="270" width="1" height="4" fill="#a9cdd3"/>
<rect x="591.0" y="259" width="5" height="11" fill="#4eb182"/><rect x="592.0" y="260" width="3" height="9" fill="#53b987"/>
<rect x="600.0" y="235" width="1" height="8" fill="#a9cdd3"/>
<rect x="600.0" y="260" width="1" height="2" fill="#a9cdd3"/>
<rect x="598.0" y="243" width="5" height="17" fill="#4eb182"/><rect x="599.0" y="244" width="3" height="15" fill="#53b987"/>
<rect x="606.0" y="232" width="1" height="2" fill="#a9cdd3"/>
<rect x="606.0" y="245" width="1" height="6" fill="#a9cdd3"/>
<rect x="604.0" y="234" width="5" height="11" fill="#4eb182"/><rect x="605.0" y="235" width="3" height="9" fill="#53b987"/>
<rect x="613.0" y="203" width="1" height="8" fill="#a9cdd3"/>
<rect x="613.0" y="235" width="1" height="1" fill="#a9cdd3"/>
<rect x="611.0" y="211" width="5" height="24" fill="#4eb182"/><rect x="612.0" y="212" width="3" height="22" fill="#53b987"/>
<rect x="620.0" y="194" width="1" height="14" fill="#f5a6ae"/>
<rect x="620.0" y="212" width="1" height="9" fill="#f5a6ae"/>
<rect x="618.0" y="208" width="5" height="4" fill="#e24858"/><rect x="619.0" y="209" width="3" height="2" fill="#eb4d5c"/>
<rect x="627.0" y="210" width="1" height="3" fill="#f5a6ae"/>
<rect x="627.0" y="233" width="1" height="8" fill="#f5a6ae"/>
<rect x="625.0" y="213" width="5" height="20" fill="#e24858"/><rect x="626.0" y="214" width="3" height="18" fill="#eb4d5c"/>
<rect x="634.0" y="222" width="1" height="11" fill="#f5a6ae"/>
<rect x="634.0" y="235" width="1" height="3" fill="#f5a6ae"/>
<rect x="632.0" y="233" width="5" height="2" fill="#eb4d5c"/>
<rect x="640.0" y="225" width="1" height="7" fill="#f5a6ae"/>
<rect x="640.0" y="235" width="1" height="3" fill="#f5a6ae"/>
<rect x="638.0" y="232" width="5" height="3" fill="#e24858"/><rect x="639.0" y="233" width="3" height="1" fill="#eb4d5c"/>
<rect x="647.0" y="225" width="1" height="2" fill="#a9cdd3"/>
<rect x="647.0" y="232" width="1" height="9" fill="#a9cdd3"/>
<rect x="645.0" y="227" width="5" height="5" fill="#4eb182"/><rect x="646.0" y="228" width="3" height="3" fill="#53b987"/>
<rect x="654.0" y="209" width="1" height="6" fill="#a9cdd3"/>
<rect x="654.0" y="228" width="1" height="4" fill="#a9cdd3"/>
<rect x="652.0" y="215" width="5" height="13" fill="#4eb182"/><rect x="653.0" y="216" width="3" height="11" fill="#53b987"/>
<rect x="661.0" y="207" width="1" height="8" fill="#f5a6ae"/>
<rect x="661.0" y="218" width="1" height="2" fill="#f5a6ae"/>
<rect x="659.0" y="215" width="5" height="3" fill="#e24858"/><rect x="660.0" y="216" width="3" height="1" fill="#eb4d5c"/>
<rect x="667.0" y="198" width="1" height="2" fill="#a9cdd3"/>
<rect x="665.0" y="200" width="5" height="18" fill="#4eb182"/><rect x="666.0" y="201" width="3" height="16" fill="#53b987"/>
<rect x="674.0" y="185" width="1" height="7" fill="#a9cdd3"/>
<rect x="674.0" y="203" width="1" height="3" fill="#a9cdd3"/>
<rect x="672.0" y="192" width="5" height="11" fill="#4eb182"/><rect x="673.0" y="193" width="3" height="9" fill="#53b987"/>
<rect x="681.0" y="152" width="1" height="28" fill="#a9cdd3"/>
<rect x="681.0" y="191" width="1" height="5" fill="#a9cdd3"/>
<rect x="679.0" y="180" width="5" height="11" fill="#4eb182"/><rect x="680.0" y="181" width="3" height="9" fill="#53b987"/>
<rect x="688.0" y="174" width="1" height="5" fill="#f5a6ae"/>
<rect x="688.0" y="189" width="1" height="5" fill="#f5a6ae"/>
<rect x="686.0" y="179" width="5" height="10" fill="#e24858"/><rect x="687.0" y="180" width="3" height="8" fill="#eb4d5c"/>
<rect x="694.0" y="182" width="1" height="6" fill="#f5a6ae"/>
<rect x="694.0" y="190" width="1" height="5" fill="#f5a6ae"/>
<rect x="692.0" y="188" width="5" height="2" fill="#eb4d5c"/>
<rect x="701.0" y="180" width="1" height="4" fill="#a9cdd3"/>
<rect x="701.0" y="191" width="1" height="11" fill="#a9cdd3"/>
<rect x="699.0" y="184" width="5" height="7" fill="#4eb182"/><rect x="700.0" y="185" width="3" height="5" fill="#53b987"/>
<rect x="708.0" y="173" width="1" height="10" fill="#a9cdd3"/>
<rect x="708.0" y="186" width="1" height="7" fill="#a9cdd3"/>
<rect x="706.0" y="183" width="5" height="3" fill="#4eb182"/><rect x="707.0" y="184" width="3" height="1" fill="#53b987"/>
<rect x="715.0" y="177" width="1" height="4" fill="#f5a6ae"/>
<rect x="715.0" y="186" width="1" height="5" fill="#f5a6ae"/>
<rect x="713.0" y="181" width="5" height="5" fill="#e24858"/><rect x="714.0" y="182" width="3" height="3" fill="#eb4d5c"/>
<rect x="721.0" y="181" width="1" height="4" fill="#f5a6ae"/>
<rect x="721.0" y="189" width="1" height="1" fill="#f5a6ae"/>
<rect x="719.0" y="185" width="5" height="4" fill="#e24858"/><rect x="720.0" y="186" width="3" height="2" fill="#eb4d5c"/>
<rect x="728.0" y="186" width="1" height="2" fill="#f5a6ae"/>
<rect x="728.0" y="192" width="1" height="4" fill="#f5a6ae"/>
<rect x="726.0" y="188" width="5" height="4" fill="#e24858"/><rect x="727.0" y="189" width="3" height="2" fill="#eb4d5c"/>
<rect x="735.0" y="189" width="1" height="2" fill="#f5a6ae"/>
<rect x="735.0" y="203" width="1" height="7" fill="#f5a6ae"/>
<rect x="733.0" y="191" width="5" height="12" fill="#e24858"/><rect x="734.0" y="192" width="3" height="10" fill="#eb4d5c"/>
<rect x="742.0" y="191" width="1" height="3" fill="#a9cdd3"/>
<rect x="742.0" y="203" width="1" height="1" fill="#a9cdd3"/>
<rect x="740.0" y="194" width="5" height="9" fill="#4eb182"/><rect x="741.0" y="195" width="3" height="7" fill="#53b987"/>
<rect x="748.0" y="210" width="1" height="12" fill="#f5a6ae"/>
<rect x="746.0" y="196" width="5" height="14" fill="#e24858"/><rect x="747.0" y="197" width="3" height="12" fill="#eb4d5c"/>
<rect x="755.0" y="198" width="1" height="9" fill="#a9cdd3"/>
<rect x="755.0" y="211" width="1" height="2" fill="#a9cdd3"/>
<rect x="753.0" y="207" width="5" height="4" fill="#4eb182"/><rect x="754.0" y="208" width="3" height="2" fill="#53b987"/>
<rect x="762.0" y="190" width="1" height="7" fill="#a9cdd3"/>
<rect x="762.0" y="208" width="1" height="2" fill="#a9cdd3"/>
<rect x="760.0" y="197" width="5" height="11" fill="#4eb182"/><rect x="761.0" y="198" width="3" height="9" fill="#53b987"/>
<rect x="769.0" y="189" width="1" height="4" fill="#a9cdd3"/>
<rect x="769.0" y="198" width="1" height="3" fill="#a9cdd3"/>
<rect x="767.0" y="193" width="5" height="5" fill="#4eb182"/><rect x="768.0" y="194" width="3" height="3" fill="#53b987"/>
<rect x="775.0" y="186" width="1" height="5" fill="#a9cdd3"/>
<rect x="775.0" y="194" width="1" height="3" fill="#a9cdd3"/>
<rect x="773.0" y="191" width="5" height="3" fill="#4eb182"/><rect x="774.0" y="192" width="3" height="1" fill="#53b987"/>
<rect x="782.0" y="183" width="1" height="6" fill="#f5a6ae"/>
<rect x="782.0" y="193" width="1" height="4" fill="#f5a6ae"/>
<rect x="780.0" y="189" width="5" height="4" fill="#e24858"/><rect x="781.0" y="190" width="3" height="2" fill="#eb4d5c"/>
<rect x="789.0" y="178" width="1" height="14" fill="#f5a6ae"/>
<rect x="789.0" y="212" width="1" height="10" fill="#f5a6ae"/>
<rect x="787.0" y="192" width="5" height="20" fill="#e24858"/><rect x="788.0" y="193" width="3" height="18" fill="#eb4d5c"/>
<rect x="796.0" y="200" width="1" height="12" fill="#f5a6ae"/>
<rect x="796.0" y="214" width="1" height="2" fill="#f5a6ae"/>
<rect x="794.0" y="212" width="5" height="2" fill="#eb4d5c"/>
<rect x="802.0" y="208" width="1" height="5" fill="#f5a6ae"/>
<rect x="802.0" y="218" width="1" height="11" fill="#f5a6ae"/>
<rect x="800.0" y="213" width="5" height="5" fill="#e24858"/><rect x="801.0" y="214" width="3" height="3" fill="#eb4d5c"/>
<rect x="809.0" y="214" width="1" height="3" fill="#f5a6ae"/>
<rect x="809.0" y="231" width="1" height="6" fill="#f5a6ae"/>
<rect x="807.0" y="217" width="5" height="14" fill="#e24858"/><rect x="808.0" y="218" width="3" height="12" fill="#eb4d5c"/>
<rect x="816.0" y="215" width="1" height="16" fill="#a9cdd3"/>
<rect x="816.0" y="232" width="1" height="5" fill="#a9cdd3"/>
<rect x="814.0" y="231" width="5" height="1" fill="#53b987"/>
<rect x="823.0" y="228" width="1" height="2" fill="#f5a6ae"/>
<rect x="823.0" y="250" width="1" height="6" fill="#f5a6ae"/>
<rect x="821.0" y="230" width="5" height="20" fill="#e24858"/><rect x="822.0" y="231" width="3" height="18" fill="#eb4d5c"/>
<rect x="829.0" y="238" width="1" height="8" fill="#a9cdd3"/>
<rect x="827.0" y="246" width="5" height="4" fill="#4eb182"/><rect x="828.0" y="247" width="3" height="2" fill="#53b987"/>
<rect x="836.0" y="239" width="1" height="6" fill="#a9cdd3"/>
<rect x="836.0" y="247" width="1" height="5" fill="#a9cdd3"/>
<rect x="834.0" y="245" width="5" height="2" fill="#53b987"/>
<rect x="843.0" y="242" width="1" height="1" fill="#f5a6ae"/>
<rect x="841.0" y="243" width="5" height="1" fill="#eb4d5c"/>
</g>
<g stroke="#555" stroke-width="1.15" stroke-dasharray="6,5"><line x1="5" y1="455.5" x2="880" y2="455.5"/><line x1="5" y1="493.5" x2="880" y2="493.5"/></g>
<g stroke="#555" stroke-width="1" shape-rendering="crispEdges">
<line x1="5" y1="442.5" x2="957" y2="442.5"/>
<line x1="881.5" y1="0" x2="881.5" y2="505"/>
<line x1="5" y1="504.5" x2="882" y2="504.5"/>
<line x1="881" y1="31.5" x2="885" y2="31.5"/>
<line x1="881" y1="76.5" x2="885" y2="76.5"/>
<line x1="881" y1="121.5" x2="885" y2="121.5"/>
<line x1="881" y1="166.5" x2="885" y2="166.5"/>
<line x1="881" y1="210.5" x2="885" y2="210.5"/>
<line x1="881" y1="255.5" x2="885" y2="255.5"/>
<line x1="881" y1="300.5" x2="885" y2="300.5"/>
<line x1="881" y1="345.5" x2="885" y2="345.5"/>
<line x1="881" y1="389.5" x2="885" y2="389.5"/>
<line x1="881" y1="434.5" x2="885" y2="434.5"/>
<line x1="881" y1="474.5" x2="885" y2="474.5"/>
<line x1="60.5" y1="504" x2="60.5" y2="508"/>
<line x1="141.5" y1="504" x2="141.5" y2="508"/>
<line x1="222.5" y1="504" x2="222.5" y2="508"/>
<line x1="303.5" y1="504" x2="303.5" y2="508"/>
<line x1="385.5" y1="504" x2="385.5" y2="508"/>
<line x1="466.5" y1="504" x2="466.5" y2="508"/>
<line x1="547.5" y1="504" x2="547.5" y2="508"/>
<line x1="628.5" y1="504" x2="628.5" y2="508"/>
<line x1="709.5" y1="504" x2="709.5" y2="508"/>
<line x1="790.5" y1="504" x2="790.5" y2="508"/>
<line x1="871.5" y1="504" x2="871.5" y2="508"/>
</g>
<path d="M0 511.5 h0.5 q2.8 0 2.8 3 v16.5 h-3.3 z" fill="#fff" stroke="#d8dce3" stroke-width="0.8"/>
<path d="M964 511.5 h-2.4 q-3 0 -3 3 v16.5 h5.4 z" fill="#fff" stroke="#d8dce3" stroke-width="0.8"/>
<path d="M961.2 521 l2.6 3.6 l-2.6 3.6" fill="none" stroke="#8493c9" stroke-width="1"/>
<path d="M1.2 520 l-1.6 1.6 M1.2 525.5 l-1.6 1.6" fill="none" stroke="#8493c9" stroke-width="1"/>
</svg>
<div class="t ax" style="top:27.1px">12.80000000</div>
<div class="t ax" style="top:72.1px">12.60000000</div>
<div class="t ax" style="top:117.1px">12.40000000</div>
<div class="t ax" style="top:162.1px">12.20000000</div>
<div class="t ax" style="top:206.1px">12.00000000</div>
<div class="t ax" style="top:251.1px">11.80000000</div>
<div class="t ax" style="top:296.1px">11.60000000</div>
<div class="t ax" style="top:341.1px">11.40000000</div>
<div class="t ax" style="top:385.1px">11.20000000</div>
<div class="t ax" style="top:430.1px">11.00000000</div>
<div class="t ax" style="top:469.7px">50.0000</div>
<div style="position:absolute;left:0;top:505px;width:880px;height:26px;overflow:hidden">
<div class="t tm" style="left:60.0px;top:7.7px">03:00</div>
<div class="t tm" style="left:141.0px;top:7.7px">06:00</div>
<div class="t tm" style="left:222.0px;top:7.7px">09:00</div>
<div class="t tm" style="left:303.0px;top:7.7px">12:00</div>
<div class="t tm" style="left:385.0px;top:7.7px">15:00</div>
<div class="t tm" style="left:466.0px;top:7.7px">18:00</div>
<div class="t tm" style="left:547.0px;top:7.7px">21:00</div>
<div class="t tm" style="left:628.0px;top:7.7px;font-weight:bold">7</div>
<div class="t tm" style="left:709.0px;top:7.7px">03:00</div>
<div class="t tm" style="left:790.0px;top:7.7px">06:00</div>
<div class="t tm" style="left:871.0px;top:7.7px">09:00</div>
</div>
<div class="bx" style="left:881px;top:235.4px;width:65px;height:11.7px;padding:3.7px 0 0 8px">11.85288362</div>
<div style="position:absolute;left:881px;top:243px;width:4px;height:1px;background:#fff"></div>
<div class="bx" style="left:919px;top:252.6px;width:31.5px;height:12.7px;padding:4.3px 0 0 3.5px">14:42</div>
</div></body></html>
